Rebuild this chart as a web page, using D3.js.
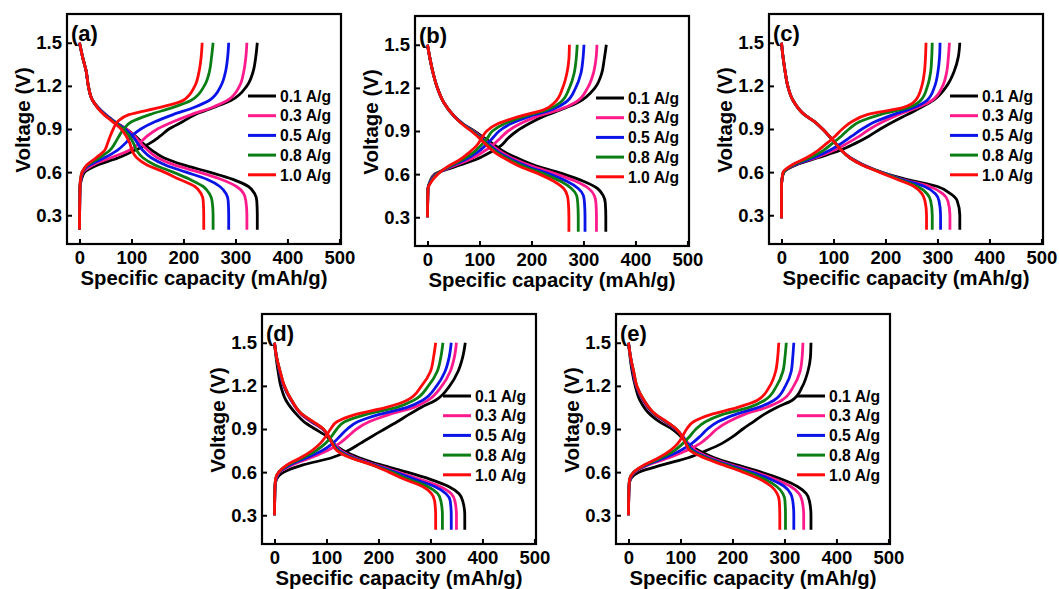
<!DOCTYPE html>
<html>
<head>
<meta charset="utf-8">
<script src="https://cdn.jsdelivr.net/npm/d3@7"></script>
<style>
  html, body { margin: 0; padding: 0; background: #fff; }
  svg { display: block; font-family: Arial, "Liberation Sans", sans-serif; font-weight: bold; }
</style>
</head>
<body>
<svg id="chart" width="1059" height="589"></svg>
<script>
// Panel names and legend labels
const panelLabels = ["(a)", "(b)", "(c)", "(d)", "(e)"];
const rates = ["0.1 A/g", "0.3 A/g", "0.5 A/g", "0.8 A/g", "1.0 A/g"];
const xTicks = [0, 100, 200, 300, 400, 500];
const yTicks = [0.3, 0.6, 0.9, 1.2, 1.5];

// Voltage levels (V) the capacities are read at
const dischargeV = [1.5, 1.4, 1.3, 1.2, 1.1, 1.0, 0.95, 0.9, 0.85, 0.8, 0.75, 0.7, 0.65, 0.6, 0.55, 0.5, 0.45, 0.4, 0.3, 0.2];
const chargeV = [0.5, 0.55, 0.6, 0.65, 0.7, 0.75, 0.8, 0.85, 0.9, 0.95, 1.0, 1.05, 1.1, 1.2, 1.3, 1.4, 1.5];
// charge curves start at zero capacity at this voltage
const chargeStartV = [0.2, 0.3, 0.28, 0.3, 0.3];

// Capacities (mAh/g), rows in legend order: 0.1, 0.3, 0.5, 0.8, 1.0 A/g
const dischargeA = [
  [0, 6, 13, 17, 25, 50, 68, 90, 108, 122, 140, 162, 200, 250, 295, 325, 337, 341, 342, 342],
  [0, 6, 13, 17, 25, 50, 68, 90, 106, 118, 132, 150, 182, 230, 272, 302, 316, 320, 322, 322],
  [0, 6, 13, 17, 25, 50, 68, 88, 102, 112, 122, 138, 165, 205, 245, 270, 282, 286, 287, 287],
  [0, 6, 13, 17, 25, 48, 66, 84, 96, 104, 110, 122, 145, 180, 212, 238, 250, 255, 257, 257],
  [0, 6, 13, 17, 25, 47, 64, 80, 90, 97, 101, 110, 130, 163, 192, 222, 234, 238, 239, 239]
];
const chargeA = [
  [1, 4, 10, 35, 75, 105, 135, 155, 172, 198, 222, 258, 292, 322, 334, 339, 342],
  [1, 3, 7, 26, 60, 95, 115, 130, 150, 180, 215, 255, 285, 308, 316, 320, 322],
  [1, 3, 6, 20, 48, 72, 88, 100, 118, 145, 180, 220, 250, 272, 281, 285, 287],
  [1, 2, 5, 16, 38, 58, 68, 76, 85, 100, 135, 180, 215, 240, 250, 254, 257],
  [1, 2, 5, 14, 32, 48, 54, 59, 65, 73, 95, 155, 200, 222, 230, 234, 236]
];
const dischargeB = [
  [0, 5, 11, 19, 31, 52, 68, 90, 110, 130, 150, 180, 215, 262, 300, 327, 338, 342, 343, 343],
  [0, 5, 11, 19, 31, 52, 68, 88, 106, 124, 143, 170, 205, 248, 285, 310, 321, 324, 325, 325],
  [0, 5, 11, 19, 31, 52, 68, 87, 104, 120, 138, 163, 195, 235, 268, 290, 300, 302, 303, 303],
  [0, 5, 11, 19, 31, 52, 67, 86, 102, 117, 134, 158, 188, 225, 256, 277, 287, 289, 290, 290],
  [0, 5, 11, 19, 31, 52, 66, 84, 100, 114, 130, 153, 180, 215, 243, 262, 269, 271, 272, 272]
];
const chargeB = [
  [1, 5, 14, 52, 92, 120, 142, 155, 172, 195, 222, 258, 290, 322, 335, 340, 344],
  [1, 6, 16, 45, 80, 105, 125, 140, 155, 178, 210, 255, 285, 308, 319, 324, 326],
  [1, 6, 17, 42, 72, 95, 112, 125, 138, 160, 195, 240, 266, 285, 295, 299, 301],
  [1, 7, 18, 40, 67, 88, 103, 115, 125, 148, 185, 232, 256, 273, 282, 286, 288],
  [1, 8, 20, 38, 62, 80, 95, 104, 114, 135, 175, 225, 245, 260, 268, 272, 273]
];
const dischargeC = [
  [0, 3, 7, 12, 22, 44, 64, 79, 92, 104, 116, 132, 158, 192, 240, 300, 325, 338, 343, 343],
  [0, 3, 7, 12, 22, 44, 64, 79, 92, 104, 116, 132, 158, 192, 232, 285, 310, 320, 324, 324],
  [0, 3, 7, 12, 22, 44, 64, 79, 92, 104, 116, 132, 157, 191, 230, 275, 296, 303, 306, 306],
  [0, 3, 7, 12, 22, 44, 64, 79, 92, 104, 116, 131, 156, 190, 226, 262, 280, 287, 290, 290],
  [0, 3, 7, 12, 22, 44, 64, 79, 92, 104, 116, 131, 155, 188, 222, 255, 270, 276, 279, 279]
];
const chargeC = [
  [0, 1, 5, 28, 70, 112, 142, 168, 190, 215, 242, 268, 292, 318, 332, 340, 343],
  [0, 1, 4, 25, 66, 100, 126, 150, 170, 195, 225, 262, 290, 310, 318, 321, 323],
  [0, 1, 4, 24, 62, 92, 115, 135, 155, 180, 215, 255, 280, 295, 301, 304, 305],
  [0, 1, 4, 22, 55, 80, 98, 115, 130, 150, 190, 245, 268, 281, 287, 289, 290],
  [0, 1, 3, 20, 48, 70, 87, 103, 117, 135, 165, 235, 258, 270, 275, 277, 278]
];
const dischargeD = [
  [0, 3, 7, 12, 22, 43, 57, 78, 100, 113, 132, 163, 205, 255, 300, 335, 355, 362, 366, 366],
  [0, 4, 10, 18, 32, 52, 70, 92, 104, 114, 128, 155, 195, 238, 280, 318, 340, 347, 350, 350],
  [0, 4, 10, 18, 32, 53, 72, 93, 104, 113, 125, 152, 192, 232, 270, 308, 330, 338, 340, 340],
  [0, 4, 11, 19, 33, 54, 74, 94, 104, 112, 122, 148, 188, 226, 258, 294, 314, 320, 323, 323],
  [0, 4, 11, 19, 33, 54, 75, 94, 104, 111, 120, 146, 188, 220, 250, 285, 302, 308, 310, 310]
];
const chargeD = [
  [1, 4, 18, 55, 110, 142, 165, 188, 212, 236, 258, 282, 310, 337, 353, 362, 367],
  [1, 3, 10, 34, 70, 102, 125, 142, 158, 182, 220, 268, 295, 322, 338, 346, 350],
  [1, 3, 9, 30, 62, 92, 112, 126, 140, 160, 200, 255, 285, 312, 328, 336, 340],
  [1, 2, 8, 26, 55, 80, 98, 110, 120, 135, 175, 235, 268, 296, 313, 320, 324],
  [1, 2, 8, 24, 50, 72, 88, 99, 108, 120, 155, 215, 255, 283, 300, 306, 310]
];
const dischargeE = [
  [0, 3, 7, 13, 22, 42, 60, 84, 100, 114, 135, 165, 208, 255, 295, 325, 342, 348, 351, 351],
  [0, 4, 9, 15, 28, 50, 70, 90, 104, 115, 130, 158, 198, 243, 282, 312, 328, 334, 337, 337],
  [0, 4, 9, 15, 29, 51, 72, 91, 104, 113, 125, 153, 192, 237, 273, 300, 312, 316, 318, 318],
  [0, 4, 10, 16, 30, 52, 73, 92, 103, 111, 121, 149, 186, 228, 262, 285, 297, 301, 302, 302],
  [0, 4, 10, 16, 30, 53, 74, 92, 103, 110, 118, 145, 182, 220, 253, 275, 286, 290, 291, 291]
];
const chargeE = [
  [1, 4, 20, 65, 115, 150, 180, 202, 220, 240, 260, 285, 315, 335, 345, 350, 351],
  [1, 3, 12, 38, 78, 112, 138, 155, 170, 192, 222, 265, 295, 318, 330, 334, 335.5],
  [1, 3, 11, 35, 70, 100, 122, 138, 152, 172, 205, 250, 280, 302, 313, 316, 318],
  [1, 2, 10, 32, 63, 88, 105, 118, 130, 148, 180, 232, 262, 285, 297, 301, 303.5],
  [1, 2, 10, 30, 58, 80, 95, 104, 112, 125, 158, 210, 248, 272, 283, 287, 289]
];

const dischargeAll = [dischargeA, dischargeB, dischargeC, dischargeD, dischargeE];
const chargeAll = [chargeA, chargeB, chargeC, chargeD, chargeE];

// Styling / layout
const colors = ["#000000", "#ff1a8c", "#0a14e6", "#0a7d14", "#ff0a0a"];
const boxes = [
  { x: 67, y: 14 }, { x: 415, y: 16 }, { x: 769, y: 14 },
  { x: 262, y: 314 }, { x: 616, y: 314 }
];
const W = 274, H = 230;

const svg = d3.select("#chart");

boxes.forEach((b, p) => {
  const g = svg.append("g").attr("transform", `translate(${b.x},${b.y})`);

  const x = d3.scaleLinear().domain([-24, 503]).range([0, W]);
  const y = d3.scaleLinear().domain([0.1, 1.7]).range([H, 0]);

  //Axes, ticks pointing inward
  const xAxis = g.append("g")
    .attr("transform", `translate(0,${H})`)
    .call(d3.axisBottom(x).tickValues(xTicks).tickSize(-5).tickPadding(7).tickFormat(d3.format("d")));
  const yAxis = g.append("g")
    .call(d3.axisLeft(y).tickValues(yTicks).tickSize(-5).tickPadding(5).tickFormat(d3.format(".1f")));
  [xAxis, yAxis].forEach(a => {
    a.select(".domain").remove();
    a.selectAll(".tick line").attr("stroke", "#000").attr("stroke-width", 2);
    a.selectAll(".tick text")
      .attr("fill", "#000")
      .style("font-size", "18.5px")
      .style("font-family", "Arial, 'Liberation Sans', sans-serif")
      .style("font-weight", "bold");
  });

  //Curves
  const line = d3.line()
    .x(d => x(d[0]))
    .y(d => y(d[1]))
    .curve(d3.curveMonotoneY);

  const curves = g.append("g");
  // 0.1 A/g first, 1.0 A/g (red) ends up on top
  rates.forEach((r, s) => {
    const dis = dischargeAll[p][s].map((q, i) => [q, dischargeV[i]]);
    const chg = [[0, chargeStartV[p]]].concat(chargeAll[p][s].map((q, i) => [q, chargeV[i]]));
    [dis, chg].forEach(pts => {
      curves.append("path")
        .attr("d", line(pts))
        .attr("fill", "none")
        .attr("stroke", colors[s])
        .attr("stroke-width", 2.8)
        .attr("stroke-linejoin", "round");
    });
  });

  //Frame
  g.append("rect")
    .attr("width", W).attr("height", H)
    .attr("fill", "none").attr("stroke", "#000").attr("stroke-width", 2.2);

  //Panel letter
  g.append("text")
    .attr("x", 4).attr("y", 27)
    .style("font-size", "22px")
    .text(panelLabels[p]);

  //Legend
  const leg = g.append("g").attr("transform", "translate(181,82)");
  rates.forEach((r, i) => {
    const row = leg.append("g").attr("transform", `translate(0,${i * 19.7})`);
    row.append("line")
      .attr("x1", 0).attr("x2", 28)
      .attr("stroke", colors[i]).attr("stroke-width", 3);
    row.append("text")
      .attr("x", 32).attr("dy", "0.36em")
      .attr("textLength", 51).attr("lengthAdjust", "spacingAndGlyphs")
      .style("font-size", "16px")
      .text(r);
  });

  //Axis titles
  g.append("text")
    .attr("x", W / 2).attr("y", H + 41)
    .attr("text-anchor", "middle")
    .attr("textLength", 247).attr("lengthAdjust", "spacingAndGlyphs")
    .style("font-size", "20px")
    .text("Specific capacity (mAh/g)");
  g.append("text")
    .attr("transform", `translate(-37,${H / 2 - 9}) rotate(-90)`)
    .attr("text-anchor", "middle")
    .style("font-size", "20.5px")
    .text("Voltage (V)");
});
</script>
</body>
</html>
